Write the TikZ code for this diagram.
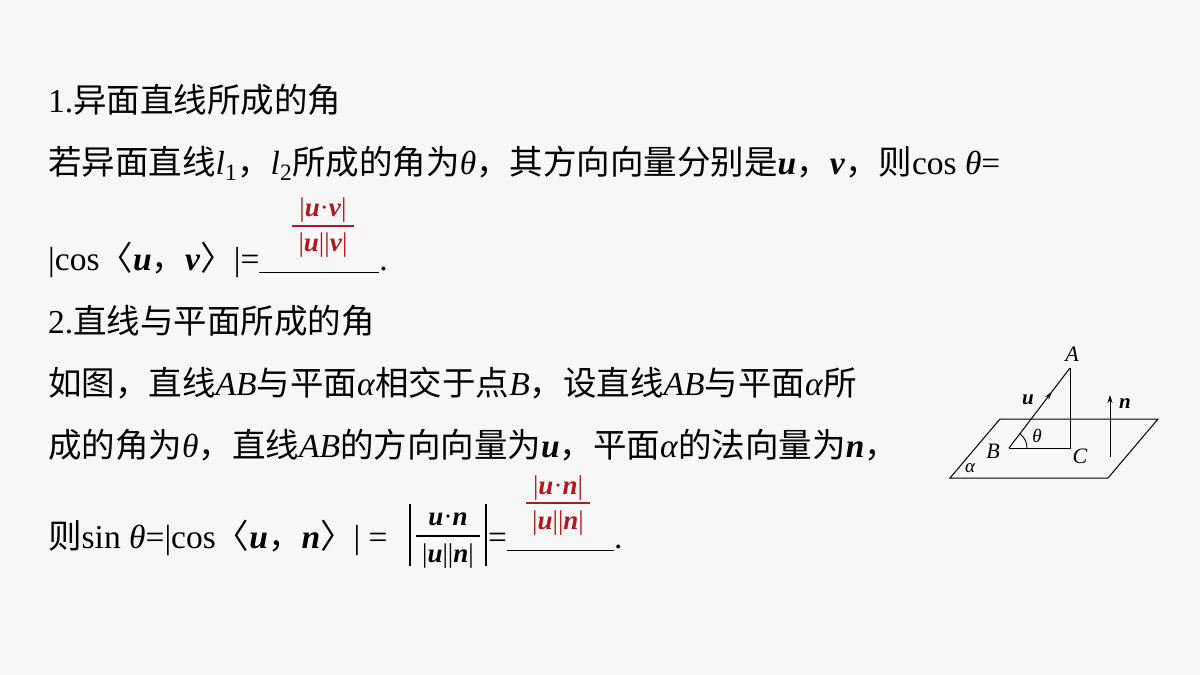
\documentclass[tikz,border=0pt]{standalone}
\usepackage{fontspec}
\setmainfont{Liberation Serif}
\newfontfamily\cjk{Noto Sans CJK SC}
\newcommand\zh[1]{{\cjk #1}}
\newcommand\bv[1]{\textbf{\textit{#1}}}
\usetikzlibrary{arrows.meta,decorations.markings}
\definecolor{ans}{RGB}{175,25,30}
\begin{document}
\begin{tikzpicture}[x=1pt,y=-1pt,
  txt/.style={anchor=base west,inner sep=0pt,font=\fontsize{33.5}{36}\selectfont},
  frac/.style={inner sep=0pt,font=\fontsize{27}{30}\selectfont,text=ans},
  fig/.style={inner sep=0pt,font=\fontsize{21}{24}\selectfont},
  figi/.style={inner sep=0pt,font=\fontsize{22}{24}\selectfont\itshape}]
\fill[white!97!black] (0,0) rectangle (1200,675);
\useasboundingbox (0,0) rectangle (1200,675);
\node[txt] (t1) at (48,112) {1.\zh{异面直线所成的角}};
\node[txt] (t2) at (48,174) {\zh{若异面直线}\textit{l}\textsubscript{1}\zh{，}\textit{l}\textsubscript{2}\zh{所成的角为}\textit{θ}\zh{，其方向向量分别是}\bv{u}\zh{，}\bv{v}\zh{，则}cos \textit{θ}=};
\node[txt] (t3) at (48,270) {|cos\zh{〈}\bv{u}\zh{，}\bv{v}\zh{〉}|=\rule[-3pt]{120pt}{1.2pt}.};
\node[frac] (f1n) at (323,210) {|\bv{u}·\bv{v}|};
\node[frac] (f1d) at (323,245) {|\bv{u}||\bv{v}|};
\draw[ans,line width=2pt] (292,226) -- (354,226);
\node[txt] (t4) at (48,333) {2.\zh{直线与平面所成的角}};
\node[txt] (t5) at (48,395) {\zh{如图，直线}\textit{AB}\zh{与平面}\textit{α}\zh{相交于点}\textit{B}\zh{，设直线}\textit{AB}\zh{与平面}\textit{α}\zh{所}};
\node[txt] (t6) at (48,457) {\zh{成的角为}\textit{θ}\zh{，直线}\textit{AB}\zh{的方向向量为}\bv{u}\zh{，平面}\textit{α}\zh{的法向量为}\bv{n}\zh{，}};
\node[txt] (t7) at (48,548) {\zh{则}sin \textit{θ}=|cos\zh{〈}\bv{u}\zh{，}\bv{n}\zh{〉}| =};
\node[inner sep=0pt,font=\fontsize{27}{30}\selectfont] (g1n) at (448,519) {\bv{u}·\bv{n}};
\node[inner sep=0pt,font=\fontsize{27}{30}\selectfont] (g1d) at (448,556) {|\bv{u}||\bv{n}|};
\draw[line width=1.2pt] (416,536) -- (480,536);
\draw[line width=1.8pt] (410,504) -- (410,566) (486,504) -- (486,566);
\node[txt] (eq) at (488,548) {=\rule[-3pt]{107pt}{1.2pt}.};
\node[frac] (f2n) at (558,488) {|\bv{u}·\bv{n}|};
\node[frac] (f2d) at (558,523) {|\bv{u}||\bv{n}|};
\draw[ans,line width=2pt] (526,503) -- (590,503);
% figure
\coordinate (P1) at (950,478); \coordinate (P2) at (1000,419);
\coordinate (P3) at (1158,419); \coordinate (P4) at (1108,478);
\coordinate (B) at (1009,448); \coordinate (C) at (1070,448); \coordinate (A) at (1070,368);
\coordinate (N0) at (1110,457); \coordinate (N1) at (1110,395);
\draw[line width=1pt] (P1) -- (P2) -- (P3) -- (P4) -- cycle;
\draw[line width=1pt] (B) -- (C) -- (A);
\draw[line width=1pt,decoration={markings,mark=at position 0.7 with {\arrow{Stealth[length=8pt,width=5pt]}}},postaction=decorate] (B) -- (A);
\draw[line width=1pt,-{Stealth[length=8pt,width=5pt]}] (N0) -- (N1);
\draw[line width=0.9pt] ([xshift=18pt]B) arc[start angle=0,end angle=52.7,radius=18pt];
\node[figi] (lA) at (1072,354) {A};
\node[fig] (lu) at (1028,400) {\bv{u}};
\node[fig] (ln) at (1125,404) {\bv{n}};
\node[inner sep=0pt,font=\fontsize{19}{22}\selectfont\itshape] (lt) at (1037,436) {θ};
\node[figi] (lB) at (993,451) {B};
\node[figi] (lC) at (1080,456) {C};
\node[inner sep=0pt,font=\fontsize{19}{22}\selectfont\itshape] (la) at (970,468) {α};
\end{tikzpicture}
\end{document}
